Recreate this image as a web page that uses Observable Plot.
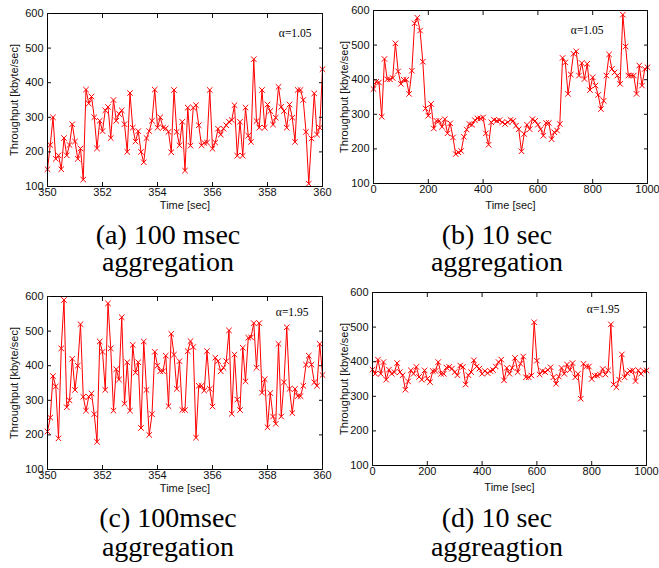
<!DOCTYPE html>
<html><head><meta charset="utf-8">
<script src="https://cdn.jsdelivr.net/npm/d3@7"></script>
<script src="https://cdn.jsdelivr.net/npm/@observablehq/plot@0.6"></script>
<style>
html,body{margin:0;padding:0;background:#fff;}
#page{position:relative;width:659px;height:568px;overflow:hidden;background:#fff;}
.panel{position:absolute;}
.cap{position:absolute;width:300px;text-align:center;font-family:'Liberation Serif','DejaVu Serif','Times New Roman',serif;font-size:28px;line-height:26px;color:#000;white-space:nowrap;}
</style></head><body><div id="page"></div>
<script>
// ---- data ----
// (a) 100 msec aggregation, alpha = 1.05, samples every 0.1 s from 350 s
const seriesA = [150,220,300,180,190,150,240,190,220,280,230,180,210,120,380,340,360,300,210,290,
  260,320,330,240,350,290,310,320,280,200,370,270,230,260,200,170,240,260,290,380,270,
  300,270,268,258,199,379,258,219,287,146,328,218,328,335,277,219,226,227,379,209,
  227,267,250,267,277,287,292,335,189,287,189,328,247,229,468,289,270,379,270,337,
  318,279,299,388,330,318,270,337,299,229,379,379,350,258,108,239,369,250,270,439];
// (b) 10 sec aggregation, alpha = 1.05, samples every 10 s from 0 s
const seriesB = [373,394,392,293,460,401,401,405,505,424,388,400,400,359,426,563,579,542,452,317,
  296,330,259,281,281,264,286,245,274,233,185,190,194,235,256,272,270,283,288,288,
  291,245,212,277,284,281,283,277,272,277,284,281,267,257,193,243,270,257,286,281,
  270,257,238,275,275,228,248,253,272,463,450,359,415,475,482,412,448,402,446,370,
  407,383,356,315,339,412,473,431,421,412,388,588,496,412,412,412,359,441,383,431,436];
// (c) 100 msec aggregation, alpha = 1.95
const seriesC = [210,250,370,340,190,450,590,280,300,420,330,400,520,310,270,310,320,260,180,470,
  440,330,580,450,270,390,360,540,290,410,270,460,380,410,220,470,330,200,260,440,400,
  384,384,429,283,492,432,333,413,272,272,442,471,454,192,342,342,328,442,333,282,
  423,413,384,394,413,502,261,432,302,272,452,355,481,482,523,394,523,322,361,222,
  321,253,232,463,253,352,511,333,263,333,312,312,342,403,429,403,352,342,463,373];
// (d) 10 sec aggregation, alpha = 1.95
const seriesD = [377,365,406,365,399,348,377,365,370,396,370,361,319,343,375,365,385,356,348,375,
  351,341,373,373,399,365,365,383,385,380,370,361,389,385,334,361,370,404,386,380,
  365,373,367,373,376,386,399,406,346,382,365,382,411,370,394,415,355,355,360,514,
  403,363,373,370,376,384,355,336,357,382,365,392,376,396,355,365,293,394,386,386,
  350,360,360,363,379,363,375,508,334,326,348,421,355,367,373,375,344,375,365,373,375];

const startMs = 350, stepMs = 0.1;   // 100 msec bins
const startSec = 0, stepSec = 10;    // 10 sec bins
const xTicksMs = [350, 352, 354, 356, 358, 360];
const xTicksSec = [0, 200, 400, 600, 800, 1000];
const yTicks = [100, 200, 300, 400, 500, 600];
const alphaLabels = ["α=1.05", "α=1.05", "α=1.95", "α=1.95"];
const captionLine1 = ["(a) 100 msec", "(b) 10 sec", "(c) 100msec", "(d) 10 sec"];
const captionLine2 = ["aggregation", "aggregation", "aggregation", "aggreagtion"];
const xLabel = "Time [sec]";
const yLabel = "Throughput [kbyte/sec]";

// ---- drawing ----
const RED = "#ff0000";
const SERIF = "'Liberation Serif', 'DejaVu Serif', 'Times New Roman', serif";
const page = document.getElementById("page");
const plain = d3.format("d");

function makePanel({values, t0, dt, xDomain, xTicks, alpha, adx, ady, m, width}) {
  const rows = values.map((v, i) => ({t: t0 + i * dt, v}));
  return Plot.plot({
    width, height: m.top + 173 + m.bottom,
    marginLeft: m.left, marginRight: m.right, marginTop: m.top, marginBottom: m.bottom,
    style: {fontFamily: "'Liberation Sans', Arial, sans-serif", fontSize: "11px", color: "#111", background: "transparent", overflow: "visible"},
    x: {domain: xDomain},
    y: {domain: [100, 600]},
    marks: [
      Plot.line(rows, {x: "t", y: "v", stroke: RED, strokeWidth: 1}),
      Plot.dot(rows, {x: "t", y: "v", symbol: "times", r: 2.6, stroke: RED, strokeWidth: 1}),
      Plot.frame({stroke: "#000", strokeWidth: 1}),
      Plot.axisX(xTicks, {anchor: "bottom", tickSize: -4, tickPadding: 6, tickFormat: plain, label: xLabel, labelAnchor: "center", labelArrow: "none", labelOffset: m.bottom - 8}),
      Plot.axisX(xTicks, {anchor: "top", tickSize: -4, tickFormat: () => "", label: null}),
      Plot.axisY(yTicks, {anchor: "left", tickSize: -4, tickPadding: 8, tickFormat: plain, label: yLabel, labelAnchor: "center", labelArrow: "none", labelOffset: m.left - 10}),
      Plot.axisY(yTicks, {anchor: "right", tickSize: -4, tickFormat: () => "", label: null}),
      Plot.text([alpha], {frameAnchor: "top-right", text: d => d, dx: adx, dy: ady, textAnchor: "end", fontFamily: SERIF, fontSize: 11.5, fill: "#000"})
    ]
  });
}

const panels = [
  {values: seriesA, t0: startMs, dt: stepMs, xDomain: [350, 360], xTicks: xTicksMs, alpha: alphaLabels[0], adx: -11, ady: 15,
   m: {left: 47, right: 8, top: 13, bottom: 30}, width: 330, pos: [0, 0]},
  {values: seriesB, t0: startSec, dt: stepSec, xDomain: [0, 1000], xTicks: xTicksSec, alpha: alphaLabels[1], adx: -44, ady: 15,
   m: {left: 43, right: 12, top: 10, bottom: 33}, width: 329, pos: [330, 0]},
  {values: seriesC, t0: startMs, dt: stepMs, xDomain: [350, 360], xTicks: xTicksMs, alpha: alphaLabels[2], adx: -14, ady: 11,
   m: {left: 47, right: 8, top: 13, bottom: 30}, width: 330, pos: [0, 283]},
  {values: seriesD, t0: startSec, dt: stepSec, xDomain: [0, 1000], xTicks: xTicksSec, alpha: alphaLabels[3], adx: -27, ady: 12,
   m: {left: 42, right: 13, top: 10, bottom: 33}, width: 329, pos: [330, 282]}
];

panels.forEach(p => {
  const div = document.createElement("div");
  div.className = "panel";
  div.style.left = p.pos[0] + "px";
  div.style.top = p.pos[1] + "px";
  div.appendChild(makePanel(p));
  page.appendChild(div);
});

// captions (two lines each), centred under each subfigure
const capCenters = [168, 497, 168, 497];
const capTops1 = [222, 222, 505, 505];
const capTops2 = [249, 249, 534, 534];
captionLine1.forEach((t, i) => {
  [[t, capTops1[i]], [captionLine2[i], capTops2[i]]].forEach(([txt, top]) => {
    const c = document.createElement("div");
    c.className = "cap";
    c.textContent = txt;
    c.style.left = (capCenters[i] - 150) + "px";
    c.style.top = top + "px";
    page.appendChild(c);
  });
});
</script></body></html>
